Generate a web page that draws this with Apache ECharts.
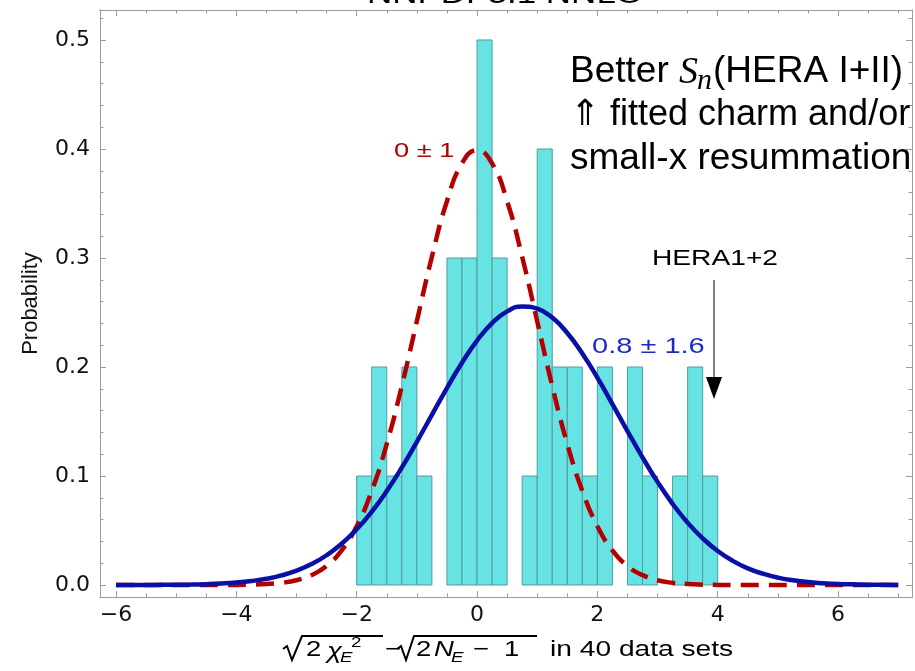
<!DOCTYPE html>
<html>
<head>
<meta charset="utf-8">
<script src="https://cdn.jsdelivr.net/npm/echarts@6/dist/echarts.min.js"></script>
<style>
html,body{margin:0;padding:0;background:#fff;}
#chart{width:915px;height:671px;}
</style>
</head>
<body>
<div id="chart"></div>
<script>
// ---------------- data ----------------
const binLeft = [-2, -1.75, -1.5, -1.25, -1, -0.75, -0.5, -0.25, 0, 0.25, 0.5, 0.75, 1, 1.25, 1.5, 1.75, 2, 2.25, 2.5, 2.75, 3, 3.25, 3.5, 3.75];
const binHeight = [0.1, 0.2, 0.1, 0.2, 0.1, 0, 0.3, 0.3, 0.5, 0.3, 0, 0.1, 0.4, 0.2, 0.2, 0.1, 0.2, 0, 0.2, 0.1, 0, 0.1, 0.2, 0.1];
const binWidth = 0.25;

const curveX = [-6, -5.75, -5.5, -5.25, -5, -4.75, -4.5, -4.25, -4, -3.75, -3.5, -3.25, -3, -2.75, -2.5, -2.25, -2, -1.75, -1.5, -1.25, -1, -0.75, -0.5, -0.25, 0, 0.25, 0.5, 0.75, 1, 1.25, 1.5, 1.75, 2, 2.25, 2.5, 2.75, 3, 3.25, 3.5, 3.75, 4, 4.25, 4.5, 4.75, 5, 5.25, 5.5, 5.75, 6, 6.25, 6.5, 6.75, 7];
const redCurveY = [0, 0, 0, 0, 0, 0, 0, 0, 0.0001, 0.00035, 0.0009, 0.002, 0.0044, 0.0091, 0.0175, 0.0317, 0.054, 0.0863, 0.1295, 0.1826, 0.242, 0.3011, 0.3521, 0.3867, 0.3989, 0.3867, 0.3521, 0.3011, 0.242, 0.1826, 0.1295, 0.0863, 0.054, 0.0317, 0.0175, 0.0091, 0.0044, 0.002, 0.0009, 0.00035, 0.0001, 0, 0, 0, 0, 0, 0, 0, 0, 0, 0, 0, 0];
const blueCurveY = [0.00002, 0.00004, 0.00007, 0.00014, 0.00025, 0.00045, 0.0008, 0.00136, 0.00225, 0.00364, 0.0057, 0.0088, 0.0132, 0.0192, 0.0273, 0.0378, 0.0511, 0.0672, 0.0862, 0.1078, 0.1314, 0.1561, 0.1807, 0.2039, 0.2242, 0.2403, 0.251, 0.2556, 0.2536, 0.2453, 0.2312, 0.2124, 0.1902, 0.166, 0.1412, 0.1171, 0.0946, 0.0745, 0.0572, 0.0428, 0.0312, 0.0222, 0.0153, 0.0104, 0.0068, 0.0044, 0.0027, 0.0017, 0.001, 0.0006, 0.0003, 0.0002, 0.0001];

const xMajorTicks = [-6, -4, -2, 0, 2, 4, 6];
const xMinorTicks = [-5.5, -5, -4.5, -3.5, -3, -2.5, -1.5, -1, -0.5, 0.5, 1, 1.5, 2.5, 3, 3.5, 4.5, 5, 5.5, 6.5, 7];
const yMajorTicks = [0, 0.1, 0.2, 0.3, 0.4, 0.5];
const yMinorTicks = [0.02, 0.04, 0.06, 0.08, 0.12, 0.14, 0.16, 0.18, 0.22, 0.24, 0.26, 0.28, 0.32, 0.34, 0.36, 0.38, 0.42, 0.44, 0.46, 0.48, 0.52];

const titleText = 'NNPDF3.1 NNLO';
const yAxisName = 'Probability';
const redLabel = '0 ± 1';
const blueLabel = '0.8 ± 1.6';
const heraLabel = 'HERA1+2';

// ---------------- style ----------------
const X_MIN = -6.266, X_MAX = 7.229;
const Y_MIN = -0.011, Y_MAX = 0.5275;
const FRAME = '#9c9c9c';
const TICKFONT = '"DejaVu Sans", sans-serif';
const ARIAL = '"Liberation Sans", Arial, sans-serif';
const SERIF = '"Liberation Serif", serif';
const STRETCH = 1.25;

function fmtX(v) { return v < 0 ? '\u2212' + Math.abs(v) : String(v); }

function xAxis(pos, ticks, len, labels) {
  return {
    type: 'value', min: X_MIN, max: X_MAX, position: pos,
    axisLine: { show: true, onZero: false, lineStyle: { color: FRAME, width: 1 } },
    axisTick: { show: true, inside: true, length: len, customValues: ticks, lineStyle: { color: FRAME, width: 1 } },
    axisLabel: labels ? { show: true, customValues: ticks, formatter: fmtX, fontFamily: TICKFONT, fontSize: 22, color: '#111', margin: 7 } : { show: false },
    splitLine: { show: false }
  };
}
function yAxis(pos, ticks, len, labels, extra) {
  return Object.assign({
    type: 'value', min: Y_MIN, max: Y_MAX, position: pos,
    axisLine: { show: true, onZero: false, lineStyle: { color: FRAME, width: 1 } },
    axisTick: { show: true, inside: true, length: len, customValues: ticks, lineStyle: { color: FRAME, width: 1 } },
    axisLabel: labels ? { show: true, customValues: ticks, formatter: v => v.toFixed(1), fontFamily: TICKFONT, fontSize: 22, color: '#111', margin: 10 } : { show: false },
    splitLine: { show: false }
  }, extra || {});
}

const chart = echarts.init(document.getElementById('chart'), null, { renderer: 'canvas' });

const barData = binLeft.map((b, i) => [b, binHeight[i]]);
const redData = curveX.map((x, i) => [x, redCurveY[i]]);
const blueData = curveX.map((x, i) => [x, blueCurveY[i]]);

function txt(text, x, y, size, color, opts) {
  opts = opts || {};
  return {
    type: 'text', x: x, y: y, scaleX: opts.scaleX == null ? STRETCH : opts.scaleX, z: 50,
    style: {
      text: text, fill: color || '#000',
      font: (opts.italic ? 'italic ' : '') + size + 'px ' + (opts.family || ARIAL),
      align: opts.align || 'left', verticalAlign: 'middle'
    }
  };
}

const graphics = [
  // title (cut off at top)
  txt(titleText, 505, -5, 28, '#000', { align: 'center' }),
  // overlay comment block
  txt('Better', 570, 72, 37, '#000', { scaleX: 1 }),
  txt('S', 679, 73, 38, '#000', { scaleX: 1, italic: true, family: SERIF }),
  txt('n', 697, 81, 30, '#000', { scaleX: 1, italic: true, family: SERIF }),
  txt('(HERA I+II)', 713, 72, 37, '#000', { scaleX: 1 }),
  txt('\u21D1 fitted charm and/or', 570, 115, 36, '#000', { scaleX: 1 }),
  txt('small-x resummation', 570, 159, 37, '#000', { scaleX: 1 }),
  // curve labels
  txt(redLabel, 394, 151, 21, '#b00000', { scaleX: 1.3 }),
  txt(blueLabel, 592, 347, 21.5, '#1a2bc4', { scaleX: 1.35 }),
  txt(heraLabel, 652, 259, 22, '#000', { scaleX: 1.28 }),
  // arrow
  { type: 'line', z: 50, shape: { x1: 714, y1: 280, x2: 714, y2: 380 }, style: { stroke: '#000', lineWidth: 1 } },
  { type: 'polygon', z: 50, shape: { points: [[706, 377], [722, 377], [714, 399]] }, style: { fill: '#000' } },
  // x axis title with radicals
  { type: 'polyline', z: 50, shape: { points: [[283, 649], [287, 646], [292, 660], [302, 636], [383, 636]] }, style: { stroke: '#000', lineWidth: 2, fill: null } },
  txt('2', 306, 650, 22, '#000'),
  txt('\u03C7', 327, 652, 22, '#000', { italic: true }),
  txt('E', 340, 658, 15, '#000', { italic: true }),
  txt('2', 351, 643, 15, '#000'),
  txt('\u2212', 385, 650, 22, '#000'),
  { type: 'polyline', z: 50, shape: { points: [[397, 649], [401, 646], [406, 660], [414, 636], [537, 636]] }, style: { stroke: '#000', lineWidth: 2, fill: null } },
  txt('2', 416, 650, 22, '#000'),
  txt('N', 434, 650, 22, '#000', { italic: true }),
  txt('E', 451, 658, 15, '#000', { italic: true }),
  txt('\u2212', 473, 650, 22, '#000'),
  txt('1', 504, 650, 22, '#000'),
  txt('in 40 data sets', 550, 650, 22, '#000', { scaleX: 1.28 })
];

const option = {
  backgroundColor: '#fff',
  animation: false,
  grid: { left: 100, right: 3, top: 10, bottom: 74, containLabel: false },
  xAxis: [
    xAxis('bottom', xMajorTicks, 6, true),
    xAxis('bottom', xMinorTicks, 3.5, false),
    xAxis('top', xMajorTicks, 6, false),
    xAxis('top', xMinorTicks, 3.5, false)
  ],
  yAxis: [
    yAxis('left', yMajorTicks, 6, true, {
      name: yAxisName, nameLocation: 'middle', nameRotate: 90, nameGap: 58,
      nameTextStyle: { fontFamily: ARIAL, fontSize: 22, color: '#111' }
    }),
    yAxis('left', yMinorTicks, 3.5, false),
    yAxis('right', yMajorTicks, 6, false),
    yAxis('right', yMinorTicks, 3.5, false)
  ],
  series: [
    {
      type: 'custom', name: 'histogram', data: barData, z: 2,
      encode: { x: 0, y: 1 },
      renderItem: function (params, api) {
        const x0 = api.value(0), h = api.value(1);
        if (!h) return null;
        const p0 = api.coord([x0, 0]);
        const p1 = api.coord([x0 + binWidth, h]);
        return {
          type: 'rect',
          shape: { x: p0[0], y: p1[1], width: p1[0] - p0[0], height: p0[1] - p1[1] },
          style: { fill: '#66e3e2', stroke: '#4f9e9e', lineWidth: 1 }
        };
      }
    },
    {
      type: 'line', name: 'N(0,1)', data: redData, z: 3,
      smooth: 0.5, showSymbol: false, symbol: 'none',
      lineStyle: { color: '#b30000', width: 4.5, type: [18, 10], cap: 'butt' }
    },
    {
      type: 'line', name: 'fit', data: blueData, z: 4,
      smooth: 0.5, showSymbol: false, symbol: 'none',
      lineStyle: { color: '#0a0fa6', width: 4.5 }
    }
  ],
  graphic: graphics
};
chart.setOption(option);
</script>
</body>
</html>
